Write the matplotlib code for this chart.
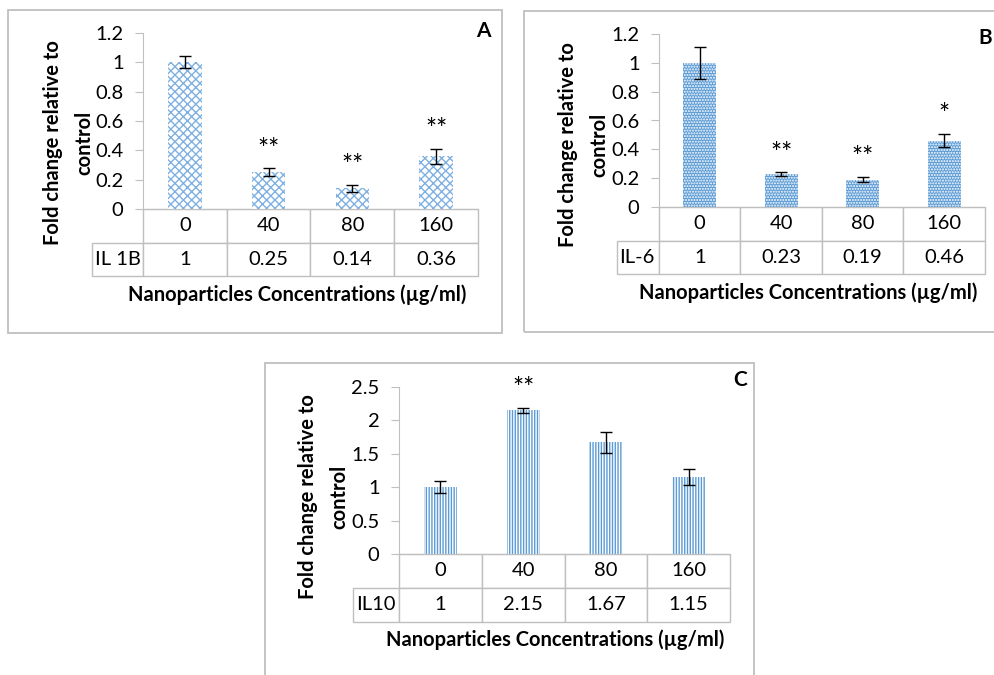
import matplotlib
matplotlib.use('Agg')
import matplotlib.pyplot as plt
from matplotlib.patches import Rectangle
from matplotlib.table import Table
from matplotlib.ticker import FuncFormatter

plt.rcParams['font.family'] = ['Lato', 'DejaVu Sans']
plt.rcParams['hatch.linewidth'] = 1.0

W, H = 995, 675

concentracoes = ['0', '40', '80', '160']

il1b = [1, 0.25, 0.14, 0.36]
il1b_err = [0.04, 0.027, 0.025, 0.05]
il1b_sig = ['', '**', '**', '**']

il6 = [1, 0.23, 0.19, 0.46]
il6_err = [0.11, 0.012, 0.02, 0.046]
il6_sig = ['', '**', '**', '*']

il10 = [1, 2.15, 1.67, 1.15]
il10_err = [0.09, 0.035, 0.155, 0.12]
il10_sig = ['', '**', '', '']

azul = '#5b9bd5'
azul_claro = '#7eb0e0'
cinza = '#bfbfbf'
fs = 14.5


def fx(x):
    return x / W


def fy(y):
    return 1 - y / H


def painel(fig, moldura, eixo, esq_rotulo, base_tabela, nome, valores, erros, sig,
           ymax, passo, estilo, letra, pos_letra, pos_xlabel, pos_ylabel):
    # moldura cinza do painel
    x0, y0, x1, y1 = moldura
    fig.patches.append(Rectangle((fx(x0), fy(y1)), fx(x1 - x0), (y1 - y0) / H,
                                 transform=fig.transFigure, fill=False,
                                 edgecolor=cinza, lw=1.3, zorder=0))
    l, t, r, b = eixo
    ax = fig.add_axes([fx(l), fy(b), fx(r - l), (b - t) / H])
    pos = range(len(valores))
    ax.bar(pos, valores, width=0.4, **estilo)
    ax.errorbar(pos, valores, yerr=erros, fmt='none', ecolor='black',
                elinewidth=1, capsize=4, capthick=1)
    for i, s in enumerate(sig):
        if s:
            ax.annotate(s, (i, valores[i] + erros[i]), xytext=(0, 13),
                        textcoords='offset points', ha='center', va='center',
                        fontsize=19)
    ax.set_xlim(-0.5, len(valores) - 0.5)
    ax.set_ylim(0, ymax)
    ticks = [k * passo for k in range(int(round(ymax / passo)) + 1)]
    ax.set_yticks(ticks)
    ax.yaxis.set_major_formatter(FuncFormatter(lambda v, p: f'{v:g}'))
    ax.tick_params(axis='y', labelsize=fs, length=6, color=cinza, pad=8)
    ax.set_xticks([])
    for s in ['top', 'right']:
        ax.spines[s].set_visible(False)
    ax.spines['left'].set_color(cinza)
    ax.spines['bottom'].set_color(cinza)

    # tabela de dados abaixo do eixo (coluna 0 = rotulo da serie)
    n = len(valores)
    larg_cat = (r - l) / n
    larg_rot = (l - esq_rotulo) / larg_cat
    alt = (base_tabela - b) / (b - t)
    tab = Table(ax, bbox=[-larg_rot / n, -alt, 1 + larg_rot / n, alt])
    tab.add_cell(1, 0, larg_rot, 1, text=nome, loc='left')
    for j in range(n):
        tab.add_cell(0, j + 1, 1, 1, text=concentracoes[j], loc='center')
        tab.add_cell(1, j + 1, 1, 1, text=f'{valores[j]:g}', loc='center')
    tab[(1, 0)].PAD = 0.06
    tab.auto_set_font_size(False)
    tab.set_fontsize(fs)
    for c in tab.get_celld().values():
        c.set_edgecolor(cinza)
        c.set_linewidth(1)
    ax.add_table(tab)

    fig.text(fx(pos_letra[0]), fy(pos_letra[1]), letra, fontsize=15,
             fontweight='bold', ha='center', va='center')
    fig.text(fx(pos_xlabel[0]), fy(pos_xlabel[1]),
             'Nanoparticles Concentrations (µg/ml)', fontsize=fs,
             fontweight='bold', ha='center', va='center')
    fig.text(fx(pos_ylabel[0]), fy(pos_ylabel[1]),
             'Fold change relative to\ncontrol', fontsize=fs, fontweight='bold',
             rotation=90, ha='center', va='center', multialignment='center',
             linespacing=1.7)
    return ax


fig = plt.figure(figsize=(W / 100, H / 100), dpi=100)

painel(fig, (8, 10, 502, 333), (143, 33, 478, 209), 92, 276, 'IL 1B',
       il1b, il1b_err, il1b_sig, 1.2, 0.2,
       dict(facecolor='white', edgecolor=azul_claro, hatch='xxxx', linewidth=0),
       'A', (483, 31), (297, 295), (69, 143))

painel(fig, (524, 11, 1010, 332), (659, 34, 985, 207), 617, 274, 'IL-6',
       il6, il6_err, il6_sig, 1.2, 0.2,
       dict(facecolor=azul, edgecolor='white', hatch='......', linewidth=0),
       'B', (985, 38), (808, 293), (584, 145))

painel(fig, (265, 363, 754, 690), (399, 387, 730, 554), 353, 622, 'IL10',
       il10, il10_err, il10_sig, 2.5, 0.5,
       dict(facecolor='white', edgecolor=azul, hatch='||||||', linewidth=0),
       'C', (740, 380), (555, 640), (324, 497))

fig.savefig('out.png', dpi=100)
